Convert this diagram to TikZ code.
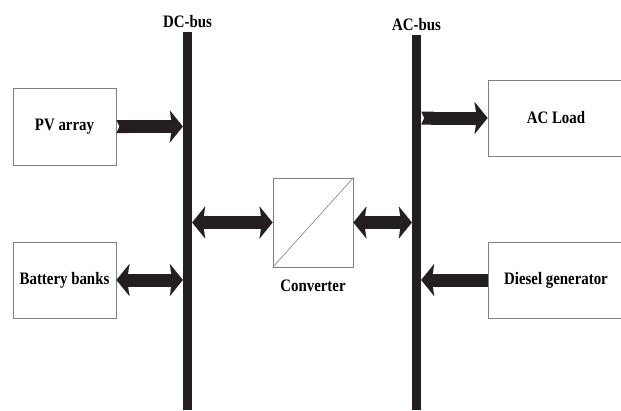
\documentclass[tikz,border=0pt]{standalone}
\usepackage{fontspec}
\setmainfont{Liberation Serif}[FakeStretch=0.85]
\usetikzlibrary{arrows.meta}

\definecolor{busblack}{HTML}{231f20}
\definecolor{boxgray}{HTML}{808080}

\begin{document}
\begin{tikzpicture}[x=1pt, y=-1pt, every node/.append style={font=\fontsize{17.5}{20}\selectfont\bfseries}]
    \useasboundingbox (0, 0) rectangle (621, 410);
    \begin{scope}[blk/.style={draw=boxgray,fill=white,line width=0.9pt,inner sep=0pt},
        bus/.style={fill=busblack,inner sep=0pt,minimum width=9pt}]

        \node[bus, minimum height=378pt, label={[anchor=south,yshift=1pt]above:DC-bus}] (dc) at (187.5, 221) {};
        \node[bus, minimum height=375pt, label={[anchor=south,yshift=1pt]above:AC-bus}] (ac) at (416.5, 222.5) {};

        \node[blk, minimum width=103pt, minimum height=77pt] (pv) at (64.5, 126.5) {PV array};
        \node[blk, minimum width=103pt, minimum height=76pt] (bat) at (64.5, 280) {Battery banks};
        \node[blk, minimum width=80pt, minimum height=89pt,
        label={[anchor=north,yshift=-9pt]below:Converter}] (conv) at (313, 222.5) {};
        \node[blk, minimum width=136pt, minimum height=76pt] (load) at (556, 118) {AC Load};
        \node[blk, minimum width=136pt, minimum height=76pt] (gen) at (556, 280) {Diesel generator};

        \draw[boxgray, line width=0.6pt] (conv.south west) -- (conv.north east);

        \begin{scope}[color=busblack, line width=13pt,
            >={Stealth[length=13pt, width=32pt, inset=2.5pt, line width=0.01pt]}]
        \path[{Triangle Cap[reversed, length=3pt]}->] (pv.east) edge (dc.west |- pv.east);
        \path[<->] (bat.east) edge (dc.west |- bat.east);
        \path[<->] (dc.east |- conv.west) edge (conv.west);
        \path[<->] (conv.east) edge (ac.west |- conv.east);
        \path[{Triangle Cap[reversed, length=3pt]}->] (ac.east |- load.west) edge (load.west);
        \path[->] (gen.west) edge (ac.east |- gen.west);
        \end{scope}
    \end{scope}
\end{tikzpicture}
\end{document}
